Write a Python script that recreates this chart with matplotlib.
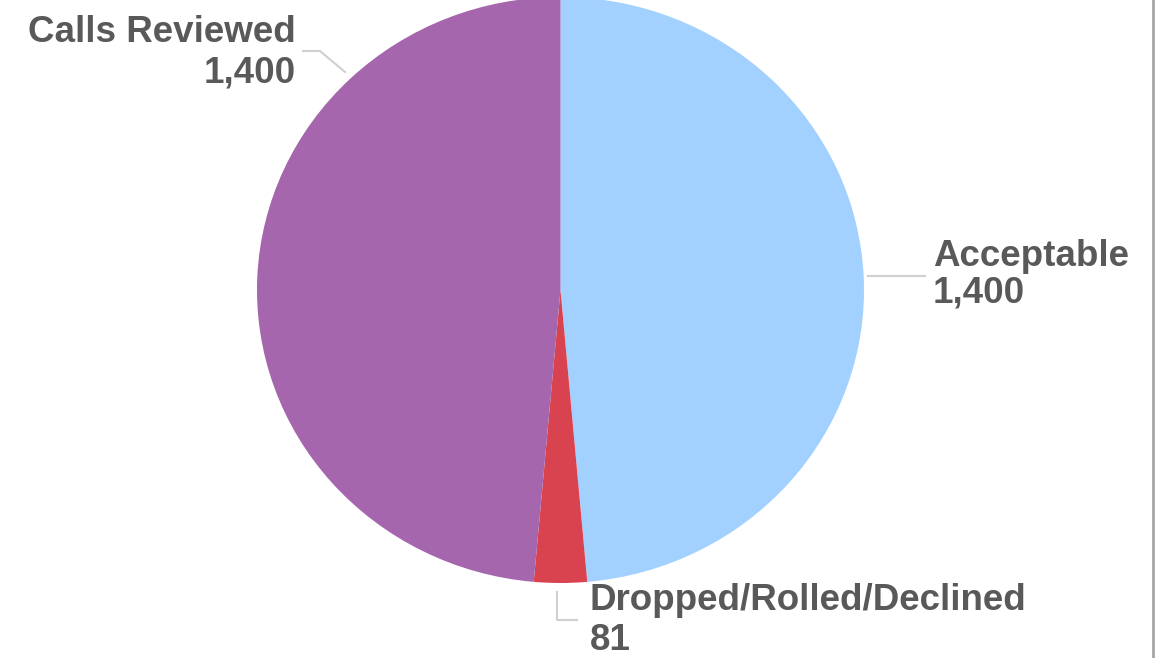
import matplotlib.pyplot as plt
from matplotlib.lines import Line2D

# data
labels = ['Acceptable', 'Dropped/Rolled/Declined', 'Calls Reviewed']
values = [1400, 81, 1400]
colors = ['#A3D1FF', '#D9434F', '#A566AE']

W, H = 1156, 658
fig = plt.figure(figsize=(W / 100, H / 100), dpi=100)
ax = fig.add_axes([0, 0, 1, 1])

# pie centre and radii in pixels (slightly squashed vertically)
cx, cy, rx, ry = 560.5, 290, 303.5, 293


def px(x, y):
    # pixel (top-left origin) -> data coordinates
    return (x - cx) / rx, (cy - y) / ry


ax.pie(values, colors=colors, startangle=90, counterclock=False,
       wedgeprops=dict(linewidth=0))
ax.set_aspect('auto')
ax.set_xlim(px(0, 0)[0], px(W, 0)[0])
ax.set_ylim(px(0, H)[1], px(0, 0)[1])
ax.axis('off')

txt = dict(fontsize=26.5, fontweight='bold', color='#595959',
           family=['Liberation Sans', 'DejaVu Sans'], va='baseline')

# label positions: (x, baseline1, baseline2, ha)
label_pos = {
    'Calls Reviewed': (296, 42, 82, 'right'),
    'Acceptable': (933, 266, 303, 'left'),
    'Dropped/Rolled/Declined': (590, 610, 650, 'left'),
}
for lab, val in zip(labels, values):
    x, b1, b2, ha = label_pos[lab]
    ax.text(*px(x, b1), lab, ha=ha, **txt)
    ax.text(*px(x, b2), f'{val:,}', ha=ha, **txt)

# leader lines
leaders = [
    [(303, 51), (320, 51), (345, 72)],
    [(868, 276), (925, 276)],
    [(557, 592), (557, 620), (577, 620)],
]
for pts in leaders:
    xs, ys = zip(*[px(*p) for p in pts])
    ax.add_line(Line2D(xs, ys, color='#D0D0D0', lw=1.5))

# right border
fig.add_artist(Line2D([1153 / W, 1153 / W], [0, 1], color='#A6A6A6', lw=2,
                      transform=fig.transFigure))

fig.savefig('out.png', dpi=100)
